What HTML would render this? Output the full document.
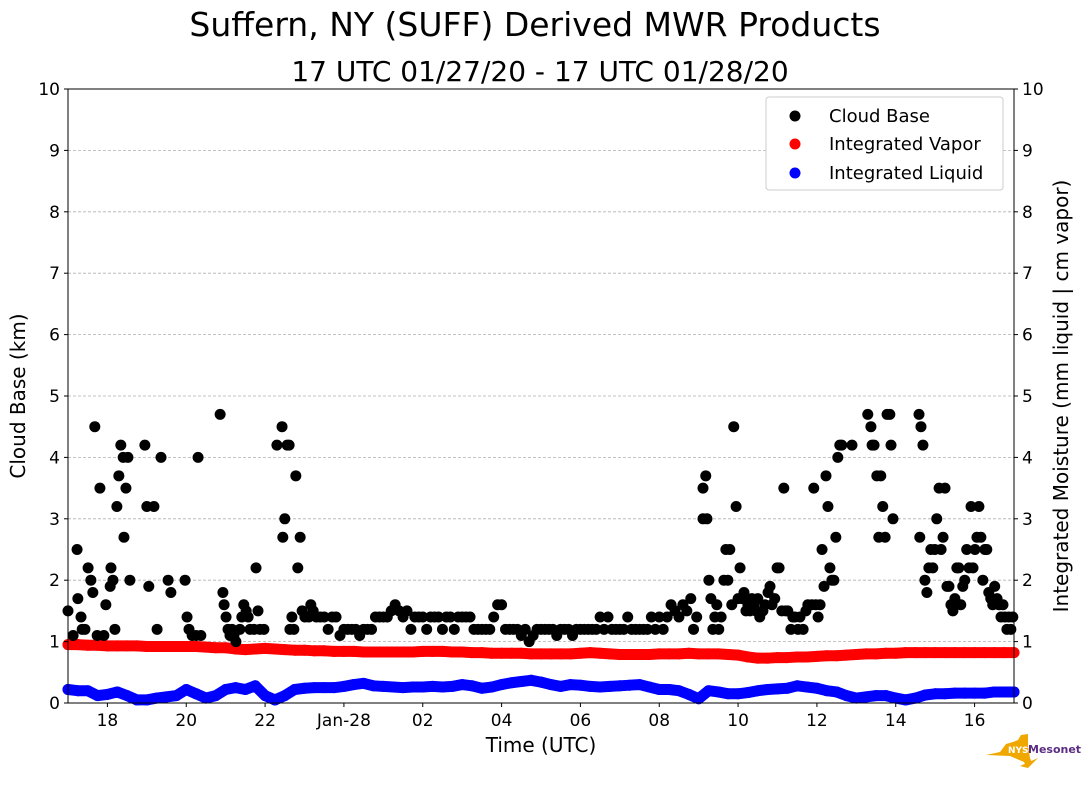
<!DOCTYPE html>
<html><head><meta charset="utf-8"><style>
body{margin:0;background:#fff;width:1089px;height:804px;overflow:hidden;font-family:"DejaVu Sans","Liberation Sans",sans-serif}
svg text{font-family:"DejaVu Sans","Liberation Sans",sans-serif}
</style></head><body>
<svg id="chart" width="1089" height="804" xmlns="http://www.w3.org/2000/svg">
<text x="535" y="36" font-size="33" text-anchor="middle">Suffern, NY (SUFF) Derived MWR Products</text>
<text x="540" y="81" font-size="28" text-anchor="middle">17 UTC 01/27/20 - 17 UTC 01/28/20</text>
<g id="grid"></g><g id="marks"></g><g id="axes"></g>
<text transform="translate(25,396) rotate(-90)" font-size="20" text-anchor="middle">Cloud Base (km)</text>
<text transform="translate(1068,396) rotate(-90)" font-size="20" text-anchor="middle">Integrated Moisture (mm liquid | cm vapor)</text>
<text x="541" y="752" font-size="20" text-anchor="middle">Time (UTC)</text>
<g>
<rect x="766" y="97" width="237" height="93" rx="3" fill="#fff" stroke="#ccc"/>
<circle cx="795" cy="116" r="5.5" fill="#000"/><text x="829" y="122" font-size="18">Cloud Base</text>
<circle cx="795" cy="144" r="5.5" fill="red"/><text x="829" y="150" font-size="18">Integrated Vapor</text>
<circle cx="795" cy="173" r="5.5" fill="blue"/><text x="829" y="179" font-size="18">Integrated Liquid</text>
</g>
<g>
<path d="M986,755 L1000,752 L1006,744 L1013,742 L1018,740 L1021,735 L1028,734 L1028,746 L1030,758 L1032,763 L1026,766 L1024,762 L1010,756 Z" fill="#f0a800"/>
<path d="M1020,766 L1038,758 L1028,768 Z" fill="#f0a800"/>
<text x="1008" y="753" font-size="9" font-weight="bold" fill="#fff">NYS</text>
<text x="1028" y="753" font-size="11" font-weight="bold" fill="#5a2d82">Mesonet</text>
</g>
</svg>
<script>
const vaporValues=[.95,.95,.94,.94,.93,.93,.93,.93,.92,.92,.92,.92,.92,.92,.91,.90,.90,.88,.87,.88,.89,.88,.87,.86,.86,.85,.85,.84,.84,.84,.83,.83,.83,.83,.83,.83,.84,.84,.84,.83,.83,.82,.82,.81,.81,.81,.81,.80,.80,.80,.80,.80,.81,.82,.81,.80,.79,.79,.79,.79,.80,.80,.80,.81,.80,.80,.80,.79,.78,.75,.73,.73,.74,.74,.75,.75,.76,.77,.77,.78,.79,.80,.80,.81,.81,.82,.82,.82,.82,.82,.82,.82,.82,.82,.82,.82,.82];
const liquidValues=[.22,.2,.2,.12,.14,.18,.12,.05,.05,.08,.1,.12,.22,.15,.08,.12,.22,.25,.22,.28,.12,.05,.12,.22,.24,.25,.25,.25,.27,.3,.32,.28,.27,.26,.25,.26,.26,.27,.26,.27,.3,.28,.24,.26,.3,.33,.35,.37,.34,.3,.27,.3,.29,.27,.26,.27,.28,.29,.3,.26,.22,.22,.2,.14,.07,.2,.18,.15,.15,.17,.2,.22,.23,.24,.28,.26,.24,.2,.18,.12,.08,.1,.12,.12,.08,.05,.08,.13,.15,.15,.16,.16,.16,.16,.18,.18,.18];
const moistStepHours=0.25;
const cbHours=[0,.13,.23,.25,.33,.36,.43,.51,.58,.63,.68,.74,.81,.91,.96,1.07,1.09,1.14,1.19,1.24,1.29,1.34,1.40,1.42,1.47,1.52,1.57,1.95,2.00,2.05,2.18,2.26,2.36,2.54,2.61,2.97,3.02,3.07,3.15,3.25,3.30,3.37,3.86,3.93,3.96,4.01,4.06,4.11,4.16,4.21,4.26,4.36,4.41,4.46,4.52,4.57,4.62,4.72,4.77,4.82,4.87,4.97,5.30,5.43,5.45,5.50,5.56,5.61,5.63,5.68,5.73,5.78,5.83,5.89,5.94,6.01,6.11,6.16,6.22,
15.87,15.95,16.11,16.18,16.11,16.21,16.26,16.31,16.36,16.41,16.46,16.51,16.57,16.64,16.69,16.74,16.79,16.84,16.89,16.95,17.00,17.05,17.10,17.15,17.20,17.25,17.30,17.35,17.40,17.45,17.50,17.55,17.63,17.68,17.76,17.81,17.86,17.93,17.99,18.04,18.11,18.16,18.21,18.26,18.34,18.39,18.44,18.52,18.57,18.65,18.72,18.77,18.87,18.92,18.97,19.03,19.08,19.13,19.18,19.23,19.28,19.33,19.38,19.43,19.48,19.53,19.58,19.63,19.89,20.29,20.37,20.40,20.45,20.52,20.57,20.62,20.67,20.73,20.78,20.85,20.88,20.93,21.59,21.64,21.69,21.61,21.74,21.79,21.84,21.89,21.94,21.99,22.04,22.10,22.15,22.20,22.25,22.30,22.35,22.40,22.45,22.50,22.55,22.60,22.65,22.70,22.75,22.80,22.86,22.91,22.96,23.01,23.06,23.11,23.16,23.21,23.26,23.31,23.36,23.41,23.46,23.51,23.57,23.62,23.67,23.72,23.77,23.82,23.87,23.92,23.97];
const cbKm=[1.5,1.1,2.5,1.7,1.4,1.2,1.2,2.2,2.0,1.8,4.5,1.1,3.5,1.1,1.6,1.9,2.2,2.0,1.2,3.2,3.7,4.2,4.0,2.7,3.5,4.0,2.0,4.2,3.2,1.9,3.2,1.2,4.0,2.0,1.8,2.0,1.4,1.2,1.1,1.1,4.0,1.1,4.7,1.8,1.6,1.4,1.2,1.1,1.2,1.1,1.0,1.2,1.4,1.6,1.5,1.4,1.2,1.2,2.2,1.5,1.2,1.2,4.2,4.5,2.7,3.0,4.2,4.2,1.2,1.4,1.2,3.7,2.2,2.7,1.5,1.4,1.4,1.6,1.5,
1.2,1.4,3.5,3.7,3.0,3.0,2.0,1.7,1.2,1.4,1.6,1.2,1.4,2.0,2.5,2.0,2.5,1.6,4.5,3.2,1.7,2.2,1.7,1.8,1.5,1.6,1.5,1.7,1.6,1.5,1.7,1.4,1.5,1.6,1.8,1.9,1.6,1.7,2.2,2.2,1.5,3.5,1.5,1.5,1.2,1.4,1.4,1.2,1.4,1.2,1.5,1.6,1.6,3.5,1.6,1.4,1.6,2.5,1.9,3.7,3.2,2.2,2.0,2.0,2.7,4.0,4.2,4.2,4.2,4.7,4.5,4.2,4.2,3.7,2.7,3.7,3.2,2.7,4.7,4.7,4.2,3.0,4.7,4.5,4.2,2.7,2.0,1.8,2.2,2.5,2.2,2.5,3.0,3.5,2.5,2.7,3.5,1.9,1.9,1.6,1.5,1.7,2.2,2.2,1.6,1.9,2.0,2.5,2.2,3.2,2.2,2.5,2.7,3.2,2.7,2.0,2.5,2.5,1.8,1.7,1.6,1.9,1.7,1.6,1.4,1.6,1.4,1.2,1.4,1.2,1.4];
const baseStartHour=6.3, baseStepHour=0.1;
const baseKm=[1.4,1.4,1.4,1.2,1.4,1.4,1.1,
1.2,1.2,1.2,1.2,1.1,1.2,1.2,1.2,1.4,1.4,
1.4,1.4,1.5,1.6,1.5,1.4,1.5,1.2,1.4,1.4,
1.4,1.2,1.4,1.4,1.4,1.2,1.4,1.4,1.2,1.4,
1.4,1.4,1.4,1.2,1.2,1.2,1.2,1.2,1.4,1.6,
1.6,1.2,1.2,1.2,1.2,1.1,1.2,1.0,1.1,1.2,
1.2,1.2,1.2,1.2,1.1,1.2,1.2,1.2,1.1,1.2,
1.2,1.2,1.2,1.2,1.2,1.4,1.2,1.4,1.2,1.2,
1.2,1.2,1.4,1.2,1.2,1.2,1.2,1.2,1.4,1.2,
1.4,1.2,1.4,1.6,1.5,1.4,1.6,1.5,1.7];
const xTickHours=[1,3,5,7,9,11,13,15,17,19,21,23];
const xTickLabels=["18","20","22","Jan-28","02","04","06","08","10","12","14","16"];
const yTicks=[0,1,2,3,4,5,6,7,8,9,10];

const L=68,R=1014,T=89,B=703,NS="http://www.w3.org/2000/svg";
const xs=h=>L+(R-L)*h/24, ys=v=>B-(B-T)*v/10;
function mk(tag,a,parent){const e=document.createElementNS(NS,tag);for(const k in a)e.setAttribute(k,a[k]);parent.appendChild(e);return e;}
const grid=document.getElementById('grid'),marks=document.getElementById('marks'),axes=document.getElementById('axes');
yTicks.forEach(v=>{
  if(v>0&&v<10){const g=mk('line',{x1:L,x2:R,y1:ys(v),y2:ys(v),stroke:'#b0b0b0','stroke-dasharray':'3,2','stroke-width':0.8},grid);
  
  }
  mk('line',{x1:L-4,x2:L,y1:ys(v),y2:ys(v),stroke:'#000'},axes);
  mk('line',{x1:R,x2:R+4,y1:ys(v),y2:ys(v),stroke:'#000'},axes);
  const t1=mk('text',{x:L-8,y:ys(v)+6,'font-size':17,'text-anchor':'end'},axes);t1.textContent=v;
  
  
  const t2=mk('text',{x:R+8,y:ys(v)+6,'font-size':17},axes);t2.textContent=v;
  
  
});
xTickHours.forEach((h,i)=>{
  mk('line',{x1:xs(h),x2:xs(h),y1:B,y2:B+4,stroke:'#000'},axes);
  const t=mk('text',{x:xs(h),y:B+23,'font-size':17,'text-anchor':'middle'},axes);t.textContent=xTickLabels[i];
  
  
});
const frame=mk('rect',{x:L,y:T,width:R-L,height:B-T,fill:'none',stroke:'#000','stroke-width':1},axes);


function band(vals,c,name){
  const pts=vals.map((v,i)=>xs(i*moistStepHours)+','+ys(v)).join(' ');
  const p=mk('polyline',{points:pts,fill:'none',stroke:c,'stroke-width':11,'stroke-linecap':'round','stroke-linejoin':'round'},marks);
  
  
}
band(vaporValues,'red','vapor-band');
band(liquidValues,'blue','liquid-band');
function dot(h,v,c,name){const d=mk('circle',{cx:xs(h),cy:ys(v),r:5.5,fill:c},marks);
  
  }
vaporValues.forEach((v,i)=>dot(i*moistStepHours,v,'red','vapor-point'));
liquidValues.forEach((v,i)=>dot(i*moistStepHours,v,'blue','liquid-point'));
cbHours.forEach((h,i)=>dot(h,cbKm[i],'#000','cloud-base-point'));
baseKm.forEach((v,i)=>dot(baseStartHour+i*baseStepHour,v,'#000','cloud-base-point'));
</script>
</body></html>
